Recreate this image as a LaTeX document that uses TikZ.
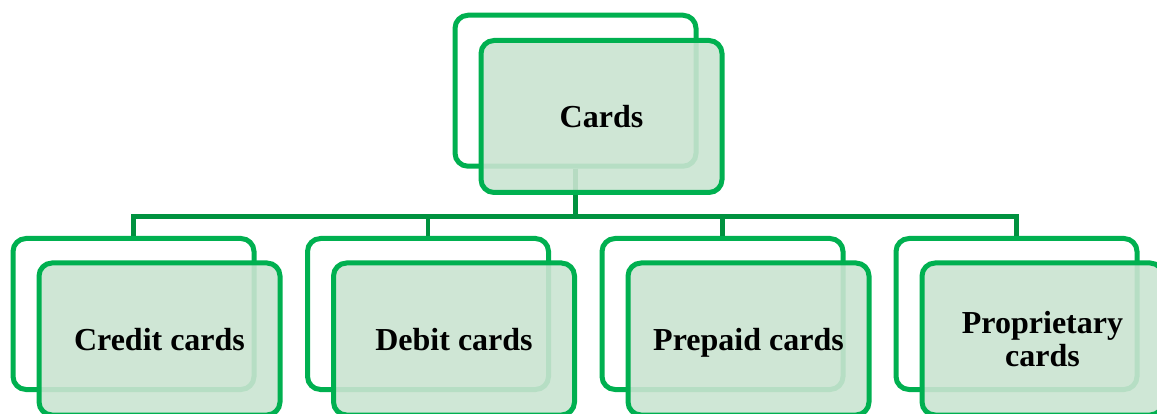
\documentclass[tikz,border=0pt]{standalone}
\usepackage{fontspec}
\setmainfont{Liberation Serif}
\usepackage{tikz}
\usetikzlibrary{positioning}
\definecolor{cardgreen}{HTML}{00B050}
\definecolor{linkgreen}{HTML}{00923F}
\definecolor{cardfill}{HTML}{CAE4D1}

\begin{document}
\begin{tikzpicture}[x=1pt, y=-1pt,
    back/.style={rectangle, draw=cardgreen, fill=white, line width=5pt,
                 rounded corners=13pt, inner sep=0pt,
                 minimum width=241pt, minimum height=151pt},
    front/.style={rectangle, draw=cardgreen, fill=cardfill, fill opacity=0.9,
                  text opacity=1, line width=5pt, rounded corners=13pt,
                  minimum width=241pt, minimum height=152pt, align=center,
                  font=\fontsize{32}{33}\selectfont\bfseries},
    oneline/.style={text height=22pt, text depth=0pt},
    link/.style={draw=linkgreen, line width=4.5pt}
  ]
  \useasboundingbox (0,0) rectangle (1157,414);

  % back frames
  \node[back] (cardsback)  at (575.5,90.75) {};
  \node[back] (creditback) at (133.5,314) {};
  \node[back] (debitback)  at (428,314)   {};
  \node[back] (prepback)   at (722.5,314) {};
  \node[back] (propback)   at (1016.5,314) {};

  % tree connectors
  \draw[link] (cardsback.south) -- ++(0,48) -| (creditback.north);
  \draw[link] (cardsback.south) -- ++(0,48) -| (debitback.north);
  \draw[link] (cardsback.south) -- ++(0,48) -| (prepback.north);
  \draw[link] (cardsback.south) -- ++(0,48) -| (propback.north);

  % front cards
  \node[front, oneline] (cards)  at (601.5,116.5) {Cards};
  \node[front, oneline] (credit) at (159.5,339)   {Credit cards};
  \node[front, oneline] (debit)  at (454,339)     {Debit cards};
  \node[front, oneline] (prep)   at (748.5,339)   {Prepaid cards};
  \node[front] (prop)   at (1042.5,339)  {Proprietary\\cards};
\end{tikzpicture}
\end{document}
